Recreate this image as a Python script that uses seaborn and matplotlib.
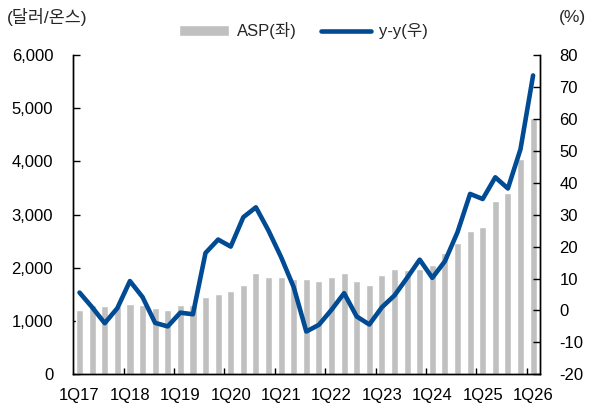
import numpy as np
import pandas as pd
import matplotlib
matplotlib.use("Agg")
import matplotlib.pyplot as plt
from matplotlib.ticker import FuncFormatter, FixedLocator
import seaborn as sns

quarters = ['1Q17', '2Q17', '3Q17', '4Q17', '1Q18', '2Q18', '3Q18', '4Q18',
            '1Q19', '2Q19', '3Q19', '4Q19', '1Q20', '2Q20', '3Q20', '4Q20',
            '1Q21', '2Q21', '3Q21', '4Q21', '1Q22', '2Q22', '3Q22', '4Q22',
            '1Q23', '2Q23', '3Q23', '4Q23', '1Q24', '2Q24', '3Q24', '4Q24',
            '1Q25', '2Q25', '3Q25', '4Q25', '1Q26']
asp = [1210, 1295, 1275, 1275, 1315, 1310, 1245, 1205,
       1310, 1310, 1460, 1500, 1570, 1685, 1910, 1835,
       1835, 1800, 1800, 1760, 1835, 1905, 1760, 1685,
       1870, 1980, 1955, 1980, 2060, 2285, 2475, 2690,
       2770, 3255, 3410, 4050, 4820]
yoy = [5.6, 1.0, -4.0, 0.7, 9.2, 4.2, -3.9, -5.0,
       -0.7, -1.2, 18.0, 22.2, 20.0, 29.2, 32.3, 25.0,
       16.7, 7.3, -6.6, -4.5, 0.2, 5.4, -1.9, -4.4,
       1.0, 4.7, 10.2, 15.9, 10.2, 15.4, 24.5, 36.5,
       34.9, 41.7, 38.2, 50.5, 73.6]
tick_labels = ['1Q17', '1Q18', '1Q19', '1Q20', '1Q21', '1Q22', '1Q23', '1Q24', '1Q25', '1Q26']
left_unit = '(달러/온스)'
right_unit = '(%)'
legend_labels = ['ASP(좌)', 'y-y(우)']

sns.set_theme(style='white')
plt.rcParams['font.family'] = ['Liberation Sans', 'Noto Sans CJK KR', 'DejaVu Sans']
plt.rcParams['axes.unicode_minus'] = False

df = pd.DataFrame({'q': quarters, 'asp': asp, 'yoy': yoy, 'pos': np.arange(len(quarters))})

BAR = '#c0c0c0'
LINE = '#004b93'

fig = plt.figure(figsize=(5.95, 4.12), dpi=100)
ax = fig.add_axes([0.122, 0.0915, 0.7856, 0.775])
sns.barplot(data=df, x='q', y='asp', color=BAR, width=0.57, ax=ax,
            saturation=1, label=legend_labels[0])
ax2 = ax.twinx()
sns.lineplot(data=df, x='pos', y='yoy', color=LINE, linewidth=3.3, ax=ax2,
             label=legend_labels[1], solid_joinstyle='round', solid_capstyle='round')

n = len(quarters)
ax.set_xlim(-0.55, n - 0.45)
ax.set_ylim(0, 6000)
ax2.set_ylim(-20, 80)
ax.set_yticks(np.arange(0, 6001, 1000))
ax2.set_yticks(np.arange(-20, 81, 10))
ax.yaxis.set_major_formatter(FuncFormatter(lambda v, p: f'{int(v):,}'))

label_pos = [quarters.index(t) for t in tick_labels]
ax.set_xticks(label_pos)
ax.set_xticklabels(tick_labels)
ax.xaxis.set_minor_locator(FixedLocator([p - 0.5 for p in label_pos[1:]]))
ax.tick_params(axis='x', which='major', length=0, pad=10, labelsize=12, colors='black')
ax.tick_params(axis='x', which='minor', length=4, width=1, direction='in', color='black', bottom=True)
ax.tick_params(axis='y', length=5, width=1, direction='in', pad=14, labelsize=12, colors='black', left=True)
ax2.tick_params(axis='y', length=5, width=1, direction='in', pad=14, labelsize=12, colors='black', right=True)

ax.set_xlabel('')
ax.set_ylabel('')
ax2.set_xlabel('')
ax2.set_ylabel('')
for a in (ax, ax2):
    a.spines['top'].set_visible(False)
    for s in ('left', 'right', 'bottom'):
        a.spines[s].set_color('black')
        a.spines[s].set_linewidth(1.0)
ax.grid(False)
ax2.grid(False)

h1, l1 = ax.get_legend_handles_labels()
h2, l2 = ax2.get_legend_handles_labels()
if ax2.get_legend():
    ax2.get_legend().remove()
if ax.get_legend():
    ax.get_legend().remove()
fig.legend(h1 + h2, l1 + l2, loc='center', bbox_to_anchor=(0.51, 0.925), ncol=2,
           frameon=False, fontsize=12, handlelength=3.0, handletextpad=0.5,
           columnspacing=1.4)

fig.text(0.012, 0.958, left_unit, fontsize=12.5, ha='left', va='center')
fig.text(0.985, 0.958, right_unit, fontsize=12.5, ha='right', va='center')

fig.savefig('out.png', dpi=100)
